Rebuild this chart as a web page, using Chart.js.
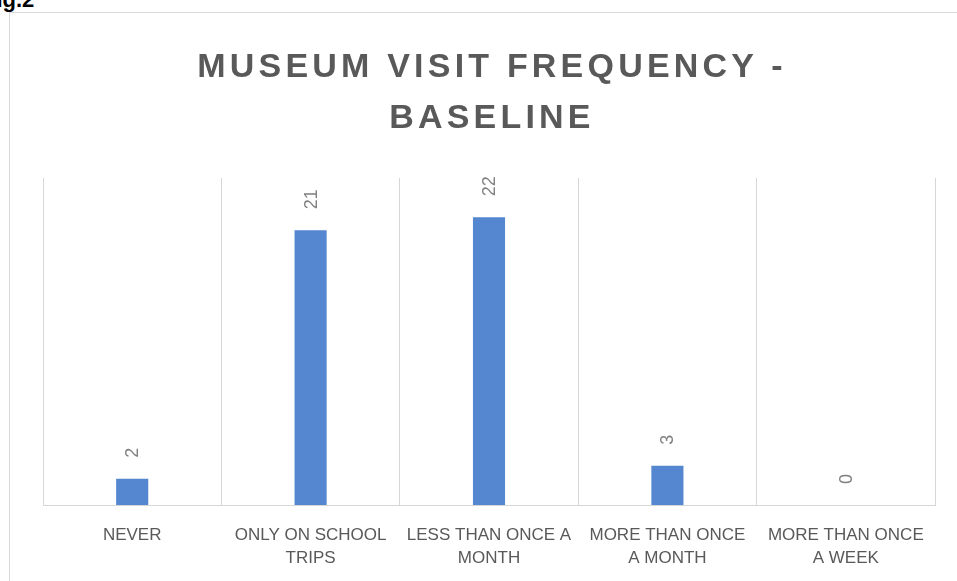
<!DOCTYPE html>
<html>
<head>
<meta charset="utf-8">
<script src="https://cdn.jsdelivr.net/npm/chart.js@4.4.1/dist/chart.umd.min.js"></script>
<style>
  body { margin: 0; background: #fff; overflow: hidden; }
  #wrap { position: relative; width: 957px; height: 581px; }
  #visitChart { position: absolute; left: 0; top: 0; }
  .frame-v { position: absolute; left: 9px; top: 12px; width: 1px; height: 569px; background: #d9d9d9; }
  .frame-h { position: absolute; left: 9px; top: 12px; width: 948px; height: 1px; background: #d9d9d9; }
  .fig-label {
    position: absolute; left: -17px; top: -11px;
    font: bold 22px "Liberation Sans", Arial, sans-serif; line-height: 22px; color: #000;
  }
  .chart-title {
    position: absolute; left: 490px; top: 40px; transform: translateX(-50%);
    width: 700px; text-align: center; padding-left: 4px;
    font: bold 34px "Liberation Sans", Arial, sans-serif; line-height: 51px;
    letter-spacing: 4.2px; color: #595959;
  }
</style>
</head>
<body>
<div id="wrap">
  <div class="fig-label">Fig.2</div>
  <div class="frame-v"></div>
  <div class="frame-h"></div>
  <canvas id="visitChart" width="957" height="581"></canvas>
  <div class="chart-title">MUSEUM VISIT FREQUENCY -<br>BASELINE</div>
</div>
<script>
// Answers to "how often do you visit a museum" (baseline survey)
const categories = [
  ['NEVER'],
  ['ONLY ON SCHOOL', 'TRIPS'],
  ['LESS THAN ONCE A', 'MONTH'],
  ['MORE THAN ONCE', 'A MONTH'],
  ['MORE THAN ONCE', 'A WEEK'],
];
const responses = [2, 21, 22, 3, 0];
const yMax = 25;

// Draws the count above each bar, turned on its side
const valueLabels = {
  id: 'valueLabels',
  afterDatasetsDraw(chart) {
    const ctx = chart.ctx;
    const meta = chart.getDatasetMeta(0);
    ctx.save();
    ctx.font = '18px "Liberation Sans", Arial, sans-serif';
    ctx.fillStyle = '#7f7f7f';
    ctx.textAlign = 'left';
    ctx.textBaseline = 'middle';
    meta.data.forEach((bar, i) => {
      ctx.save();
      ctx.translate(bar.x + 1, bar.y - 21);
      ctx.rotate(-Math.PI / 2);
      ctx.fillText(String(responses[i]), 0, 0);
      ctx.restore();
    });
    ctx.restore();
  },
};

const ctx = document.getElementById('visitChart').getContext('2d');

const visitChart = new Chart(ctx, {
  type: 'bar',
  data: {
    labels: categories,
    datasets: [
      {
        data: responses,
        backgroundColor: '#5586d0',
        barPercentage: 0.18,
        categoryPercentage: 1,
      },
    ],
  },
  options: {
    responsive: false,
    animation: false,
    layout: {
      padding: { left: 43, right: 22, top: 178, bottom: 0 },
    },
    scales: {
      x: {
        grid: {
          display: true,
          offset: true,
          color: '#d6d6d6',
          lineWidth: 1,
          drawTicks: false,
        },
        border: { color: '#d6d6d6', width: 1 },
        ticks: {
          color: '#595959',
          padding: 19,
          maxRotation: 0,
          autoSkip: false,
          font: { family: '"Liberation Sans", Arial, sans-serif', size: 17, lineHeight: 23 / 17 },
        },
        afterFit(scale) {
          scale.height = 76;
        },
      },
      y: {
        display: false,
        min: 0,
        max: yMax,
      },
    },
    plugins: {
      legend: { display: false },
      tooltip: { enabled: false },
    },
  },
  plugins: [valueLabels],
});
</script>
</body>
</html>
